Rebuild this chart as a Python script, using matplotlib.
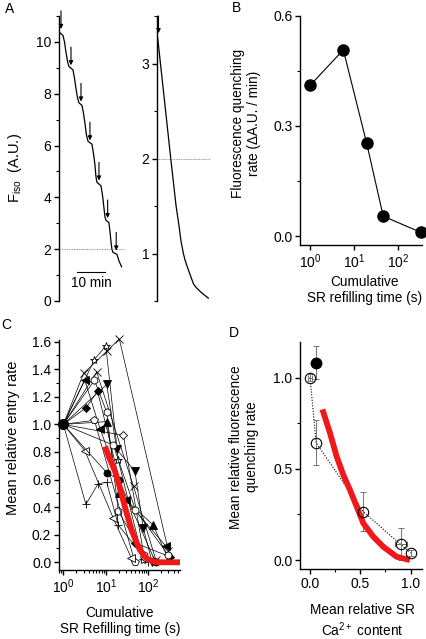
import matplotlib
matplotlib.use('Agg')
import matplotlib.pyplot as plt
from matplotlib.ticker import MultipleLocator, LogLocator, NullLocator, FixedLocator, FormatStrFormatter

plt.rcParams['font.family'] = ['Liberation Sans', 'DejaVu Sans']
plt.rcParams['mathtext.fontset'] = 'custom'
plt.rcParams['mathtext.rm'] = 'Liberation Sans'
plt.rcParams['mathtext.it'] = 'Liberation Sans'
plt.rcParams['font.size'] = 10

TICK_FS = 10
LAB_FS = 9.8

# ---- panel A: fluorescence traces (time in min, F in A.U.)
a1_t = [0.36, 1.43, 1.96, 2.5, 3.04, 3.57, 5.0, 5.54, 6.07, 6.6, 7.14, 8.21, 8.75, 9.29, 9.82,
        10.36, 11.79, 12.32, 12.86, 13.21, 13.57, 15.0, 15.54, 16.07, 16.43, 16.79, 17.86,
        18.21, 18.57, 18.93, 19.29, 20.71, 21.43, 22.39]
a1_f = [10.35, 10.25, 10.0, 9.6, 9.25, 9.05, 8.92, 8.6, 8.2, 7.85, 7.65, 7.55, 7.25, 6.85, 6.4,
        6.17, 6.05, 5.7, 5.25, 4.8, 4.58, 4.45, 4.1, 3.6, 3.25, 3.12, 3.02,
        2.7, 2.3, 2.0, 1.88, 1.8, 1.55, 1.32]
a1_arrow_t = [0.71, 4.29, 7.86, 11.07, 14.29, 17.39, 20.46]
a1_arrow_f = [10.4, 9.0, 7.6, 6.1, 4.55, 3.1, 1.85]

a2_t = [0.1, 0.5, 4.9, 6.8, 7.9, 8.5, 9.4, 10.0, 10.8, 12.0, 13.0, 14.0, 15.4, 16.8, 18.3]
a2_f = [3.3, 3.2, 2.0, 1.5, 1.28, 1.14, 1.0, 0.93, 0.86, 0.76, 0.68, 0.64, 0.6, 0.565, 0.53]

# ---- panel B
b_time = [1, 5.7, 19.4, 46, 328]
b_rate = [0.41, 0.507, 0.252, 0.054, 0.01]

# ---- panel C: individual cells (x = refilling time, y = relative entry rate)
c_star_x = [1, 5.4, 10, 19.7, 75];        c_star_y = [1, 1.47, 1.57, 0.74, 0.02]
c_x1_x = [1, 3, 10.5, 20.8, 300];         c_x1_y = [1, 1.37, 1.53, 1.62, 0.08]
c_x2_x = [1, 6.1, 45, 150];               c_x2_y = [1, 1.38, 0.55, 0.02]
c_ltri_x = [1, 3.2, 7.3, 30, 257];        c_ltri_y = [1, 1.32, 0.97, 0.45, 0.12]
c_diam_x = [1, 3.4, 6.4, 48.6, 324];      c_diam_y = [1, 1.12, 1.24, 0.14, 0.04]
c_dtri_x = [1, 10.5, 18, 48.6, 76, 124];  c_dtri_y = [1, 1.29, 0.82, 0.66, 0.25, 0.0]
c_utri_x = [1, 10.5, 20, 131, 300];       c_utri_y = [1, 1.02, 0.5, 0.27, 0.02]
c_hex_x = [1, 5.4, 10.5, 19.7, 80];       c_hex_y = [1, 1.32, 1.09, 0.37, 0.05]
c_pent_x = [1, 5.4, 48.6];                c_pent_y = [1, 1.03, 0.0]
c_odiam_x = [1, 26, 80];                  c_odiam_y = [1, 0.92, 0.04]
c_oltri_x = [1, 3.2, 15, 40];             c_oltri_y = [1, 0.81, 0.32, 0.03]
c_circ_x = [1, 10.5, 20, 150];            c_circ_y = [1, 0.65, 0.6, 0.0]
c_plus_x = [1, 3.4, 6.6, 10.5, 19.7, 100]; c_plus_y = [1, 0.42, 0.57, 0.58, 0.27, 0.0]
c_ocirc_x = [1, 15, 50, 300];             c_ocirc_y = [1, 0.85, 0.38, 0.05]

c_fit_x = [9.6, 12, 16.5, 22, 28.3, 40.6, 52, 63.8, 80, 100, 130, 172, 560]
c_fit_y = [0.84, 0.76, 0.66, 0.53, 0.40, 0.234, 0.15, 0.09, 0.045, 0.02, 0.006, 0.0, 0.0]

# ---- panel D
d_open_x = [0.0, 0.06, 0.53, 0.90, 1.0]
d_open_y = [1.0, 0.643, 0.265, 0.086, 0.04]
d_open_yerr = [0.02, 0.123, 0.107, 0.088, 0.015]
d_open_xerr = [0.02, 0.0, 0.0, 0.06, 0.0]
d_fill_x = [0.06]; d_fill_y = [1.082]; d_fill_yerr = [0.09]
d_fit_x = [0.123, 0.199, 0.265, 0.331, 0.397, 0.464, 0.53, 0.629, 0.728, 0.861, 0.993]
d_fit_y = [0.826, 0.695, 0.567, 0.466, 0.384, 0.293, 0.201, 0.128, 0.073, 0.018, 0.0]

W, H = 427, 639
fig = plt.figure(figsize=(W / 100, H / 100), dpi=100)


def rect(l, t, r, b):
    return [l / W, 1 - b / H, (r - l) / W, (b - t) / H]


def style(ax):
    for s in ['top', 'right']:
        ax.spines[s].set_visible(False)
    for s in ['left', 'bottom']:
        ax.spines[s].set_linewidth(1.0)
    ax.tick_params(which='major', direction='out', length=3.5, width=1.0, labelsize=TICK_FS, pad=2)
    ax.tick_params(which='minor', direction='out', length=2, width=0.8)


def ftext(x, y, s, **kw):
    fig.text(x / W, 1 - y / H, s, ha='center', va='center', **kw)


def arrow(ax, t, f0, f1):
    ax.annotate('', xy=(t, f1), xytext=(t, f0),
                arrowprops=dict(arrowstyle='-|>', color='k', lw=0.8, mutation_scale=6,
                                shrinkA=0, shrinkB=0), annotation_clip=False)


# A left
ax = fig.add_axes(rect(59, 16, 125, 301))
style(ax)
ax.spines['bottom'].set_visible(False)
ax.xaxis.set_visible(False)
ax.plot(a1_t, a1_f, color='k', lw=0.9)
ax.plot([0.3, 23.2], [2, 2], color='0.45', lw=0.6, ls=(0, (1, 1)))
for t, f in zip(a1_arrow_t, a1_arrow_f):
    arrow(ax, t, f + 0.8, f + 0.1)
ax.plot([6.4, 16.4], [1.12, 1.12], color='k', lw=0.8)
ax.set_xlim(0, 23.6)
ax.set_ylim(0, 11)
ax.yaxis.set_major_locator(MultipleLocator(2))
ax.yaxis.set_minor_locator(MultipleLocator(1))
ftext(91, 283, '10 min', fontsize=LAB_FS)

# A right
ax = fig.add_axes(rect(157, 16, 212, 301))
style(ax)
ax.spines['bottom'].set_visible(False)
ax.xaxis.set_visible(False)
ax.plot(a2_t, a2_f, color='k', lw=0.9)
ax.plot([0, 18.9], [2, 2], color='0.45', lw=0.6, ls=(0, (1, 1)))
arrow(ax, 0.54, 3.5, 3.32)
ax.set_xlim(0, 19.6)
ax.set_ylim(0.5, 3.5)
ax.yaxis.set_major_locator(FixedLocator([1, 2, 3]))
ax.yaxis.set_minor_locator(FixedLocator([0.5, 1.5, 2.5, 3.5]))

ftext(10, 9, 'A', fontsize=10)
ftext(15, 168, r'F$_{\mathrm{iso}}$  (A.U.)', rotation=90, fontsize=10.5)

# B
ax = fig.add_axes(rect(300, 15.7, 421.7, 245))
style(ax)
ax.plot(b_time, b_rate, color='k', lw=0.8, marker='o', ms=8, mfc='k', mec='k', clip_on=False)
ax.set_xscale('log')
ax.set_xlim(0.59, 345)
ax.set_ylim(-0.0245, 0.6)
ax.xaxis.set_major_locator(LogLocator(base=10, numticks=5))
ax.xaxis.set_minor_locator(NullLocator())
ax.yaxis.set_major_locator(MultipleLocator(0.3))
ax.yaxis.set_minor_locator(MultipleLocator(0.15))
ax.yaxis.set_major_formatter(FormatStrFormatter('%.1f'))
ftext(237, 8, 'B', fontsize=10)
ftext(246, 123, 'Fluorescence quenching\nrate (\u0394A.U. / min)', rotation=90,
      fontsize=LAB_FS, linespacing=1.1)
ftext(365, 290, 'Cumulative\nSR refilling time (s)', fontsize=LAB_FS, linespacing=1.15)

# C
ax = fig.add_axes(rect(59, 340, 180, 570))
style(ax)
c_series = [
    (c_star_x, c_star_y, '*', False, 6),
    (c_x1_x, c_x1_y, 'x', False, 5.5),
    (c_x2_x, c_x2_y, 'x', False, 5.5),
    (c_ltri_x, c_ltri_y, '<', True, 5.5),
    (c_diam_x, c_diam_y, 'D', True, 4.5),
    (c_dtri_x, c_dtri_y, 'v', True, 5.5),
    (c_utri_x, c_utri_y, '^', True, 5.5),
    (c_hex_x, c_hex_y, 'h', False, 5.5),
    (c_pent_x, c_pent_y, 'p', False, 5.5),
    (c_odiam_x, c_odiam_y, 'D', False, 4.5),
    (c_oltri_x, c_oltri_y, '<', False, 5.5),
    (c_circ_x, c_circ_y, 'o', True, 5),
    (c_plus_x, c_plus_y, '+', False, 6),
    (c_ocirc_x, c_ocirc_y, 'o', False, 5),
]
for xs, ys, m, filled, ms in c_series:
    ax.plot(xs, ys, color='k', lw=0.5, marker=m, ms=ms, mew=0.6,
            mfc='k' if filled else 'white', mec='k', clip_on=False)
ax.plot([1], [1], marker='o', ms=7, color='k', clip_on=False)
ax.plot(c_fit_x, c_fit_y, color='#f01818', lw=4.2, solid_capstyle='butt', clip_on=False)
ax.set_xscale('log')
ax.set_xlim(0.79, 560)
ax.set_ylim(-0.056, 1.612)
ax.xaxis.set_major_locator(LogLocator(base=10, numticks=5))
ax.xaxis.set_minor_locator(LogLocator(base=10, subs=range(2, 10), numticks=10))
ax.yaxis.set_major_locator(MultipleLocator(0.2))
ax.yaxis.set_minor_locator(MultipleLocator(0.1))
ax.yaxis.set_major_formatter(FormatStrFormatter('%.1f'))
ftext(6, 325, 'C', fontsize=10)
ftext(13, 438, 'Mean relative entry rate', rotation=90, fontsize=10.5)
ftext(120, 621, 'Cumulative\nSR Refilling time (s)', fontsize=LAB_FS, linespacing=1.2)

# D
ax = fig.add_axes(rect(300, 341.7, 421.7, 569))
style(ax)
ax.plot(d_open_x, d_open_y, color='k', lw=0.8, ls=(0, (1, 1.5)))
ax.errorbar(d_open_x, d_open_y, yerr=d_open_yerr, xerr=d_open_xerr, fmt='none',
            ecolor='0.45', elinewidth=0.7, capsize=2.5, capthick=0.7)
ax.errorbar(d_fill_x, d_fill_y, yerr=d_fill_yerr, fmt='none',
            ecolor='0.45', elinewidth=0.7, capsize=2.5, capthick=0.7)
ax.plot(d_fit_x, d_fit_y, color='#f01818', lw=4.2, solid_capstyle='butt')
ax.plot(d_open_x, d_open_y, ls='none', marker='o', ms=7.5, mfc='none', mec='k', mew=0.8)
ax.plot(d_fill_x, d_fill_y, ls='none', marker='o', ms=7.5, mfc='k', mec='k')
ax.set_xlim(-0.1, 1.11)
ax.set_ylim(-0.049, 1.197)
ax.xaxis.set_major_locator(MultipleLocator(0.5))
ax.xaxis.set_minor_locator(MultipleLocator(0.25))
ax.yaxis.set_major_locator(MultipleLocator(0.5))
ax.yaxis.set_minor_locator(MultipleLocator(0.25))
ax.xaxis.set_major_formatter(FormatStrFormatter('%.1f'))
ax.yaxis.set_major_formatter(FormatStrFormatter('%.1f'))
ftext(234, 333, 'D', fontsize=10)
ftext(244, 447, 'Mean relative fluorescence\nquenching rate', rotation=90,
      fontsize=LAB_FS, linespacing=1.1)
ftext(362, 621, 'Mean relative SR\nCa$^{2+}$ content', fontsize=LAB_FS, linespacing=1.2)

fig.savefig('out.png', dpi=100)
